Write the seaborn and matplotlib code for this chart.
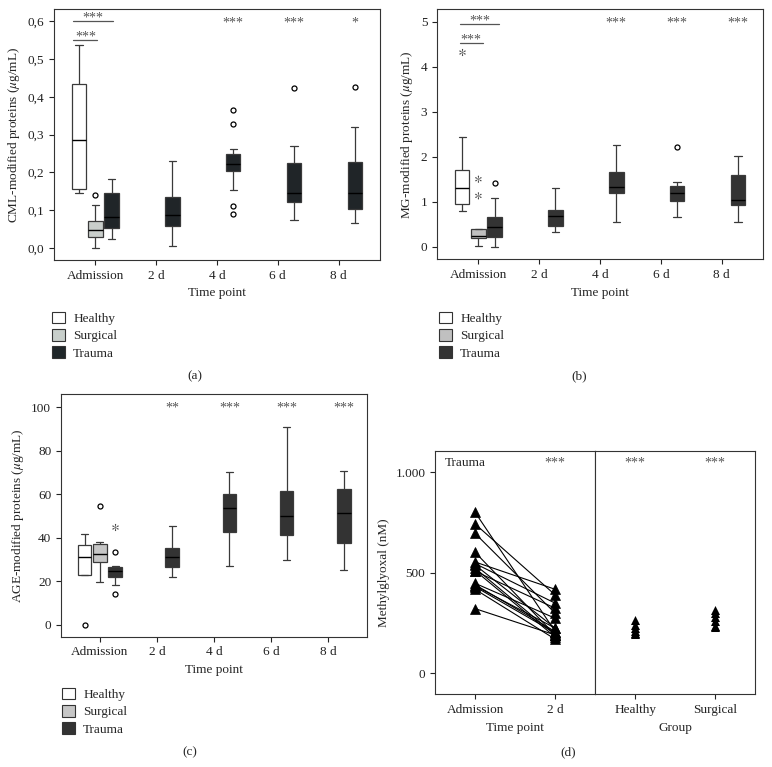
import matplotlib
matplotlib.use("Agg")
import matplotlib.pyplot as plt
from matplotlib.patches import Patch
import seaborn as sns
import pandas as pd

times = ["Admission", "2 d", "4 d", "6 d", "8 d"]
groups = ["Healthy", "Surgical", "Trauma"]

# box summaries: low whisker, q1, median, q3, high whisker
# (a) CML
cml_healthy = [0.144, 0.157, 0.285, 0.434, 0.536]
cml_surgical = [0.0, 0.029, 0.047, 0.072, 0.113]
cml_trauma = [[0.024, 0.053, 0.081, 0.144, 0.183],
              [0.004, 0.057, 0.086, 0.134, 0.231],
              [0.154, 0.203, 0.223, 0.248, 0.263],
              [0.074, 0.121, 0.145, 0.225, 0.270],
              [0.067, 0.102, 0.144, 0.228, 0.320]]
cml_out_healthy = []
cml_out_surgical = [0.140]
cml_out_trauma = [[], [], [0.366, 0.329, 0.112, 0.091], [0.424], [0.425]]

# (b) MG
mg_healthy = [0.79, 0.95, 1.30, 1.70, 2.43]
mg_surgical = [0.02, 0.186, 0.237, 0.386, 0.386]
mg_trauma = [[0.0, 0.22, 0.43, 0.66, 1.09],
             [0.33, 0.46, 0.68, 0.81, 1.30],
             [0.54, 1.19, 1.32, 1.65, 2.27],
             [0.67, 1.02, 1.19, 1.36, 1.44],
             [0.54, 0.92, 1.04, 1.59, 2.01]]
mg_out_healthy = []
mg_out_surgical = []
mg_out_trauma = [[1.42], [], [], [2.21], []]
mg_ext_healthy = [4.33]
mg_ext_surgical = [1.50, 1.13]

# (c) AGE
age_healthy = [23.0, 23.0, 31.3, 36.8, 41.7]
age_surgical = [19.6, 29.0, 32.4, 37.3, 38.2]
age_trauma = [[18.3, 22.1, 24.5, 26.6, 26.8],
              [21.8, 26.7, 31.1, 35.1, 45.4],
              [27.1, 42.5, 53.5, 60.1, 70.2],
              [29.6, 41.4, 50.1, 61.4, 90.8],
              [25.0, 37.6, 51.4, 62.6, 70.8]]
age_out_healthy = [0.0]
age_out_surgical = [54.6]
age_out_trauma = [[33.6, 14.0], [], [], [], []]
age_ext_trauma = [45.1]

# (d) methylglyoxal, paired trauma patients and control groups
mgx_admission = [800, 742, 695, 601, 553, 545, 538, 522, 507, 447, 440, 434, 417, 321, 510, 430]
mgx_2d = [207, 389, 298, 190, 417, 348, 224, 190, 323, 273, 207, 224, 169, 190, 180, 200]
mgx_healthy = [262, 240, 225, 210, 200, 195]
mgx_surgical = [314, 298, 280, 258, 235, 228]

sns.set_style("ticks")
plt.rcParams["font.family"] = ["Liberation Serif", "DejaVu Serif"]
plt.rcParams["mathtext.fontset"] = "stix"
plt.rcParams["axes.edgecolor"] = "#333333"
plt.rcParams["axes.linewidth"] = 0.8
FS = 9.5


def expand(summary, outliers):
    lo, q1, med, q3, hi = summary
    return [lo, q1, q1, med, q3, q3, hi] * 6 + list(outliers)


def box_frame(healthy, surgical, trauma, out_h, out_s, out_t):
    rows = [("Admission", "Healthy", v) for v in expand(healthy, out_h)]
    rows += [("Admission", "Surgical", v) for v in expand(surgical, out_s)]
    for t, summ, out in zip(times, trauma, out_t):
        rows += [(t, "Trauma", v) for v in expand(summ, out)]
    return pd.DataFrame(rows, columns=["time", "group", "value"])


def draw_boxes(ax, df, palette, edge, ext=None):
    sns.boxplot(data=df, x="time", y="value", hue="group", order=times, hue_order=groups,
                palette=palette, linecolor=edge, linewidth=0.9, width=0.8, gap=0.1,
                whis=1.5, legend=False, ax=ax,
                medianprops=dict(color="black", linewidth=1.0),
                flierprops=dict(marker="o", markersize=3.6, markerfacecolor="white",
                                markeredgecolor="black", markeredgewidth=0.9))
    if ext is not None:
        sns.stripplot(data=ext, x="time", y="value", hue="group", order=times,
                      hue_order=groups, dodge=True, jitter=False, marker="$\\ast$",
                      size=5.2, palette={g: "#444444" for g in groups}, legend=False, ax=ax)
    ax.set_xlim(-0.68, 4.68)
    ax.set_xticks(range(5))
    ax.set_xticklabels(times, fontsize=FS)
    ax.set_xlabel("Time point", fontsize=FS)
    ax.tick_params(direction="out", length=3.5, width=0.8, top=False, right=False,
                   labelsize=FS, colors="#222222")


def stars(ax, xs, y, txt="***"):
    for x in xs:
        ax.text(x, y, txt, ha="center", va="center", fontsize=10, color="#555555")


def legend(fig, x, y, palette):
    handles = [Patch(facecolor=palette[g], edgecolor="#333333", linewidth=0.8, label=g)
               for g in groups]
    fig.legend(handles=handles, loc="upper left", bbox_to_anchor=(x, y), frameon=False,
               borderpad=0, borderaxespad=0, handlelength=0.95, handleheight=0.95,
               handletextpad=0.65, labelspacing=0.3, fontsize=FS)


fig = plt.figure(figsize=(7.72, 7.67), dpi=100)
tr = 0.8 / 3  # dodge offset of the Trauma box

# (a)
ax = fig.add_axes([0.0699, 0.6610, 0.4223, 0.3272])
pal_a = {"Healthy": "white", "Surgical": "#c8cfcb", "Trauma": "#1f2629"}
draw_boxes(ax, box_frame(cml_healthy, cml_surgical, cml_trauma,
                         cml_out_healthy, cml_out_surgical, cml_out_trauma), pal_a, "#3a3a3a")
ax.set_ylim(-0.032, 0.632)
ax.set_yticks([0, 0.1, 0.2, 0.3, 0.4, 0.5, 0.6])
ax.set_yticklabels(["0,0", "0,1", "0,2", "0,3", "0,4", "0,5", "0,6"])
ax.set_ylabel("CML-modified proteins ($\\mu$g/mL)", fontsize=FS)
ax.plot([-0.36, tr + 0.02], [0.601, 0.601], color="#555555", lw=0.9)
ax.plot([-0.36, 0.02], [0.550, 0.550], color="#555555", lw=0.9)
stars(ax, [-0.04], 0.609)
stars(ax, [-0.15], 0.558)
stars(ax, [2 + tr, 3 + tr], 0.595)
stars(ax, [4 + tr], 0.595, "*")
legend(fig, 52 / 772, 1 - 312 / 767, pal_a)
fig.text(195 / 772, 1 - 376 / 767, "(a)", ha="center", va="center", fontsize=FS)

# (b)
ax = fig.add_axes([0.5661, 0.6619, 0.4223, 0.3263])
pal_b = {"Healthy": "white", "Surgical": "#c0c0c0", "Trauma": "#333333"}
ext_b = pd.DataFrame({"time": ["Admission"] * 3,
                      "group": ["Healthy"] + ["Surgical"] * 2,
                      "value": mg_ext_healthy + mg_ext_surgical})
draw_boxes(ax, box_frame(mg_healthy, mg_surgical, mg_trauma,
                         mg_out_healthy, mg_out_surgical, mg_out_trauma), pal_b, "#3a3a3a", ext_b)
ax.set_ylim(-0.28, 5.28)
ax.set_yticks(range(6))
ax.set_ylabel("MG-modified proteins ($\\mu$g/mL)", fontsize=FS)
ax.plot([-0.30, tr + 0.07], [4.95, 4.95], color="#555555", lw=0.9)
ax.plot([-0.30, 0.07], [4.53, 4.53], color="#555555", lw=0.9)
stars(ax, [0.02], 5.02)
stars(ax, [-0.12], 4.60)
stars(ax, [2 + tr, 3 + tr, 4 + tr], 4.96)
legend(fig, 439 / 772, 1 - 312 / 767, pal_b)
fig.text(578.7 / 772, 1 - 376 / 767, "(b)", ha="center", va="center", fontsize=FS)

# (c)
ax = fig.add_axes([0.0790, 0.1699, 0.3968, 0.3160])
pal_c = {"Healthy": "white", "Surgical": "#c6c6c6", "Trauma": "#333333"}
ext_c = pd.DataFrame({"time": ["Admission"], "group": ["Trauma"], "value": age_ext_trauma})
draw_boxes(ax, box_frame(age_healthy, age_surgical, age_trauma,
                         age_out_healthy, age_out_surgical, age_out_trauma), pal_c, "#3a3a3a", ext_c)
ax.set_ylim(-5.5, 106)
ax.set_yticks(range(0, 101, 20))
ax.set_ylabel("AGE-modified proteins ($\\mu$g/mL)", fontsize=FS)
stars(ax, [1 + tr], 99.5, "**")
stars(ax, [2 + tr, 3 + tr, 4 + tr], 99.5)
legend(fig, 62 / 772, 1 - 688 / 767, pal_c)
fig.text(190 / 772, 1 - 752.7 / 767, "(c)", ha="center", va="center", fontsize=FS)

# (d)
axl = fig.add_axes([0.5635, 0.0948, 0.2076, 0.3172])
axr = fig.add_axes([0.7711, 0.0948, 0.2073, 0.3172])
n = len(mgx_admission)
pairs = pd.DataFrame({"patient": list(range(n)) * 2,
                      "pos": [0] * n + [1] * n,
                      "mg": mgx_admission + mgx_2d})
sns.lineplot(data=pairs, x="pos", y="mg", units="patient", estimator=None, color="black",
             lw=0.8, marker="^", markersize=6.5, markeredgecolor="black",
             markeredgewidth=0.5, ax=axl)
ctrl = pd.DataFrame({"group": ["Healthy"] * len(mgx_healthy) + ["Surgical"] * len(mgx_surgical),
                     "mg": mgx_healthy + mgx_surgical})
sns.stripplot(data=ctrl, x="group", y="mg", order=["Healthy", "Surgical"], jitter=False,
              marker="^", size=6.5, color="black", ax=axr)
for a in (axl, axr):
    a.set_ylim(-105, 1105)
    a.set_xlim(-0.5, 1.5)
    a.tick_params(direction="out", length=3.5, width=0.8, top=False, right=False,
                  labelsize=FS, colors="#222222")
axl.set_xticks([0, 1])
axl.set_xticklabels(["Admission", "2 d"])
axl.set_yticks([0, 500, 1000])
axl.set_yticklabels(["0", "500", "1.000"])
axl.set_xlabel("Time point", fontsize=FS)
axl.set_ylabel("Methylglyoxal (nM)", fontsize=FS)
axr.set_xticks([0, 1])
axr.set_xticklabels(["Healthy", "Surgical"])
axr.set_xlabel("Group", fontsize=FS)
axr.set_ylabel("")
axr.tick_params(left=False, labelleft=False)
axl.text(-0.38, 1046, "Trauma", ha="left", va="center", fontsize=FS)
stars(axl, [1], 1046)
stars(axr, [0, 1], 1046)
fig.text(567.7 / 772, 1 - 752.7 / 767, "(d)", ha="center", va="center", fontsize=FS)

fig.savefig("out.png", dpi=100)
